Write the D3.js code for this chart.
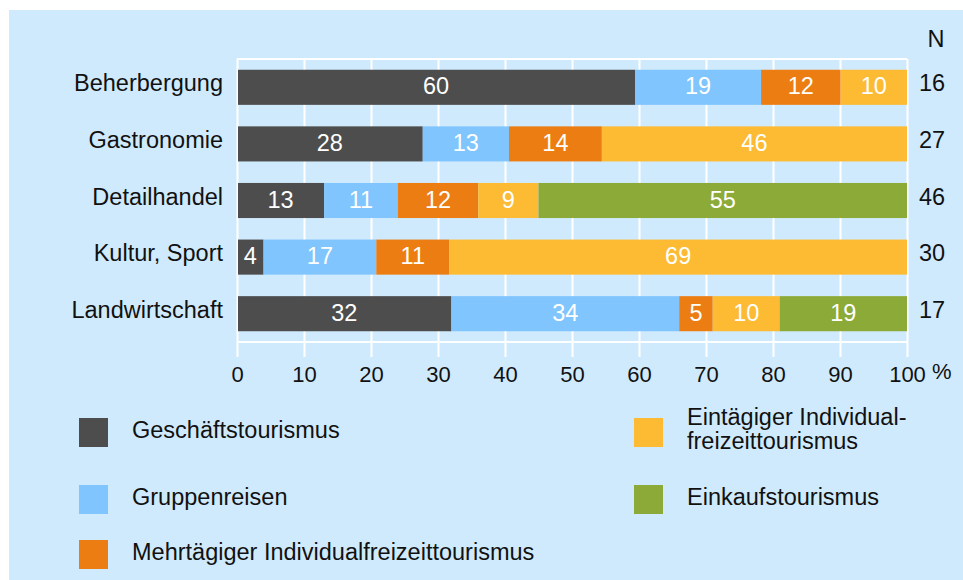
<!DOCTYPE html>
<html lang="de">
<head>
<meta charset="UTF-8">
<title>Tourismus nach Branche</title>
<script src="https://d3js.org/d3.v7.min.js"></script>
<style>
  body { margin: 0; background: #fff; }
  svg text { font-family: "Liberation Sans", Arial, Helvetica, sans-serif; }
</style>
</head>
<body>
<svg id="chart" width="963" height="580"></svg>
<script>
// data
const branches = ["Beherbergung", "Gastronomie", "Detailhandel", "Kultur, Sport", "Landwirtschaft"];
const nValues = [16, 27, 46, 30, 17];
const series = ["Geschäftstourismus", "Gruppenreisen", "Mehrtägiger Individualfreizeittourismus",
                "Eintägiger Individual-\nfreizeittourismus", "Einkaufstourismus"];
const geschaeft = [60, 28, 13, 4, 32];
const gruppen = [19, 13, 11, 17, 34];
const mehrtaegig = [12, 14, 12, 11, 5];
const eintaegig = [10, 46, 9, 69, 10];
const einkauf = [0, 0, 55, 0, 19];
const xTicks = [0, 10, 20, 30, 40, 50, 60, 70, 80, 90, 100];

const colors = ["#4d4d4d", "#80c5fd", "#ec7d12", "#fcbb33", "#8caa37"];
const allSeries = [geschaeft, gruppen, mehrtaegig, eintaegig, einkauf];

const svg = d3.select("#chart");
const width = +svg.attr("width");
const height = +svg.attr("height");
const fs = 23.5;

svg.append("rect")
  .attr("x", 9).attr("y", 10)
  .attr("width", width - 9).attr("height", height - 10)
  .attr("fill", "#d0eafd");

const plotLeft = 237, plotRight = 907, plotTop = 59, plotBottom = 342;

const x = d3.scaleLinear().domain([0, 100]).range([plotLeft, plotRight]);
const y = d3.scaleBand().domain(branches).range([plotTop, plotBottom]).paddingInner(0.38).paddingOuter(0.19);

// grid + x axis
const xAxis = svg.append("g")
  .attr("transform", `translate(0,357)`)
  .call(d3.axisBottom(x).tickValues(xTicks).tickSize(-(357 - plotTop)));
xAxis.select(".domain").remove();
xAxis.selectAll("line").attr("stroke", "#fff").attr("stroke-width", 2);
xAxis.selectAll("text")
  .attr("font-size", 22).attr("fill", "#111")
  .attr("y", 25).attr("dy", 0);

svg.append("text")
  .attr("x", 932).attr("y", 379)
  .attr("font-size", 22).attr("fill", "#111")
  .text("%");

// frame top/bottom
svg.selectAll(".hline").data([plotTop, plotBottom])
  .join("line")
  .attr("x1", plotLeft).attr("x2", plotRight)
  .attr("y1", d => d).attr("y2", d => d)
  .attr("stroke", "#fff").attr("stroke-width", 2);

// stacked segments (normalised to 100 %)
const rows = branches.map((b, i) => {
  const vals = allSeries.map(s => s[i]);
  const total = d3.sum(vals);
  let cum = 0;
  return vals.map((v, k) => {
    const seg = { branch: b, k: k, value: v, x0: cum / total * 100, x1: (cum + v) / total * 100 };
    cum += v;
    return seg;
  });
}).flat().filter(d => d.value > 0);

svg.append("g").selectAll("rect").data(rows)
  .join("rect")
  .attr("x", d => d.k === 0 ? x(d.x0) + 1 : x(d.x0))
  .attr("y", d => y(d.branch))
  .attr("width", d => x(d.x1) - x(d.x0) - (d.k === 0 ? 1 : 0))
  .attr("height", y.bandwidth())
  .attr("fill", d => colors[d.k]);

svg.append("g").selectAll("text").data(rows)
  .join("text")
  .attr("x", d => (x(d.x0) + x(d.x1)) / 2)
  .attr("y", d => y(d.branch) + y.bandwidth() / 2 + 7)
  .attr("text-anchor", "middle")
  .attr("font-size", fs)
  .attr("fill", "#fff")
  .text(d => d.value);

// category axis
const yAxis = svg.append("g")
  .attr("transform", `translate(223,0)`)
  .call(d3.axisLeft(y).tickSize(0).tickPadding(0));
yAxis.select(".domain").remove();
yAxis.selectAll("text").attr("font-size", fs).attr("fill", "#111").attr("dy", 4);

// N column
svg.append("text")
  .attr("x", 936).attr("y", 47)
  .attr("text-anchor", "middle")
  .attr("font-size", fs).attr("fill", "#111")
  .text("N");
svg.append("g").selectAll("text").data(branches)
  .join("text")
  .attr("x", 932)
  .attr("y", d => y(d) + y.bandwidth() / 2 + 4)
  .attr("text-anchor", "middle")
  .attr("font-size", fs).attr("fill", "#111")
  .text((d, i) => nValues[i]);

// legend
const legendPos = [[79, 418], [79, 485], [79, 540], [634, 418], [634, 485]];
const legend = svg.append("g").selectAll("g").data(series)
  .join("g")
  .attr("transform", (d, i) => `translate(${legendPos[i][0]},${legendPos[i][1]})`);
legend.append("rect")
  .attr("width", 29).attr("height", 29)
  .attr("fill", (d, i) => colors[i]);
legend.each(function (d) {
  const lines = d.split("\n");
  const t = d3.select(this).append("text")
    .attr("font-size", fs).attr("fill", "#111");
  lines.forEach((ln, j) => {
    t.append("tspan")
      .attr("x", 53)
      .attr("y", lines.length === 1 ? 20 : 7 + j * 24)
      .text(ln);
  });
});
</script>
</body>
</html>
